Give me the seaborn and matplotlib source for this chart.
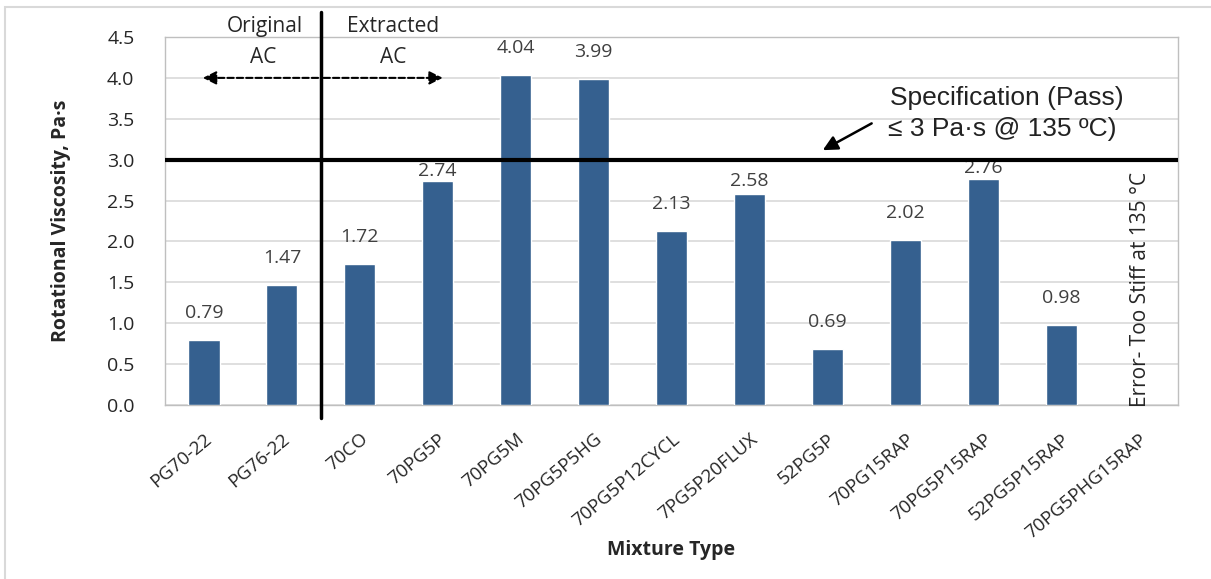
import numpy as np
import pandas as pd
import matplotlib
matplotlib.use('Agg')
import matplotlib.pyplot as plt
import seaborn as sns
from matplotlib.patches import Rectangle

# Datos
mezclas = ['PG70-22', 'PG76-22', '70CO', '70PG5P', '70PG5M', '70PG5P5HG',
           '70PG5P12CYCL', '7PG5P20FLUX', '52PG5P', '70PG15RAP', '70PG5P15RAP',
           '52PG5P15RAP', '70PG5PHG15RAP']
viscosidad = [0.79, 1.47, 1.72, 2.74, 4.04, 3.99, 2.13, 2.58, 0.69, 2.02, 2.76,
              0.98, np.nan]
limite_spec = 3.0
y_ticks = np.arange(0, 4.51, 0.5)

df = pd.DataFrame({'mezcla': mezclas, 'viscosidad': viscosidad})

sns.set_style('white')
plt.rcParams['font.family'] = ['Open Sans', 'DejaVu Sans']

fig = plt.figure(figsize=(12.11, 5.79), dpi=100)
ax = fig.add_axes([165 / 1211, 1 - 405 / 579, (1178 - 165) / 1211, (405 - 37) / 579])

sns.barplot(data=df, x='mezcla', y='viscosidad', order=mezclas, color='#35608F',
            width=0.4, saturation=1, ax=ax, zorder=3)

ax.set_ylim(0, 4.5)
ax.set_xlim(-0.5, len(mezclas) - 0.5)
ax.set_yticks(y_ticks)
ax.set_yticklabels([f'{v:.1f}' for v in y_ticks], fontsize=14)
ax.yaxis.grid(True, color='#d9d9d9', lw=1.2, zorder=0)
ax.tick_params(axis='both', length=0)
ax.tick_params(axis='y', pad=22)
ax.set_xticks(range(len(mezclas)))
ax.set_xticklabels(mezclas, rotation=40, ha='right', rotation_mode='anchor', fontsize=13.5)
ax.tick_params(axis='x', pad=18)
for s in ax.spines.values():
    s.set_visible(True)
    s.set_color('#bfbfbf')
    s.set_linewidth(1)

ax.set_ylabel('Rotational Viscosity, Pa·s', fontsize=14, fontweight='bold', labelpad=26)
ax.set_xlabel('Mixture Type', fontsize=14, fontweight='bold', va='center')
ax.xaxis.set_label_coords(0.5, -(550 - 405) / 368)

# Etiquetas de valores (algunas bajadas para no tapar la linea de especificacion)
desplaz = [13, 13, 13, 1, 13, 13, 13, 3, 13, 13, 2, 13, 13]
for i, v in enumerate(viscosidad):
    if np.isnan(v):
        continue
    ax.annotate(f'{v:.2f}', (i, v), xytext=(0, desplaz[i]), textcoords='offset points',
                ha='center', va='bottom', fontsize=14, color='#404040')

# Linea de especificacion
ax.axhline(limite_spec, color='black', lw=3, zorder=4)
ax.text(8.8, 3.76, 'Specification (Pass)', fontsize=19, family='Liberation Sans',
        va='center', ha='left', color='#222222')
ax.text(8.78, 3.37, '≤ 3 Pa·s @ 135 ºC)', fontsize=19, family='Liberation Sans',
        va='center', ha='left', color='#222222')
ax.annotate('', xy=(7.91, 3.1), xytext=(8.6, 3.46),
            arrowprops=dict(arrowstyle='-|>', color='black', lw=1.8, mutation_scale=22))

# Separador original / extraido
ax.plot([1.5, 1.5], [-0.16, 4.8], color='black', lw=2.5, clip_on=False, zorder=5)
for x_fin in [-0.05, 3.1]:
    ax.annotate('', xy=(x_fin, 4.0), xytext=(1.5, 4.0),
                arrowprops=dict(arrowstyle='-|>', color='black', lw=1.5,
                                linestyle=(0, (3, 1.5)), mutation_scale=20))
ax.text(0.78, 4.63, 'Original', fontsize=15, ha='center', va='center', clip_on=False)
ax.text(0.76, 4.25, 'AC', fontsize=15, ha='center', va='center')
ax.text(2.43, 4.63, 'Extracted', fontsize=15, ha='center', va='center', clip_on=False)
ax.text(2.43, 4.25, 'AC', fontsize=15, ha='center', va='center')

# Muestra sin dato
ax.text(12.02, -0.03, 'Error- Too Stiff at 135 °C', rotation=90, fontsize=15,
        ha='center', va='bottom')

# Borde exterior
fig.patches.append(Rectangle((5 / 1211, -0.1), 2, 1 - 7 / 579 + 0.1,
                             transform=fig.transFigure, fill=False,
                             edgecolor='#d9d9d9', lw=1.5))

fig.savefig('out.png', dpi=100)
